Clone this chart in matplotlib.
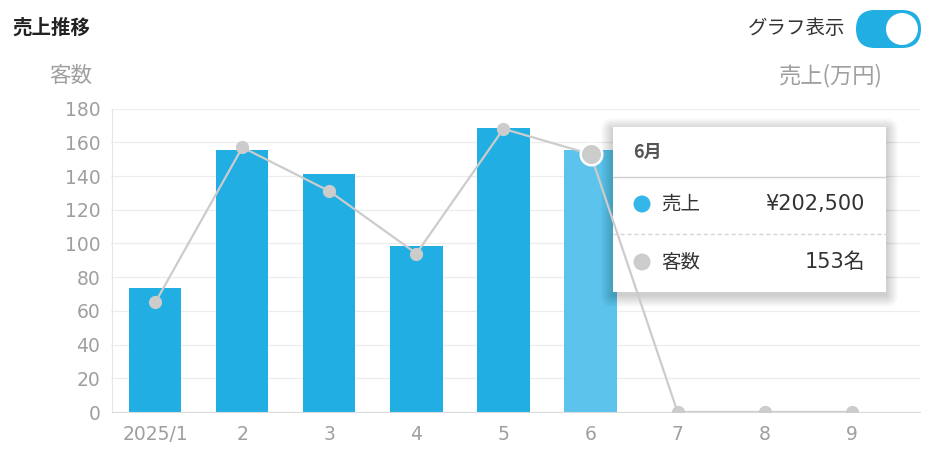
import numpy as np
import matplotlib
matplotlib.use('Agg')
import matplotlib.pyplot as plt
from matplotlib.patches import FancyBboxPatch, Circle, Rectangle
from matplotlib.transforms import Affine2D
from matplotlib.lines import Line2D

# ---- data ----
months = ['2025/1', '2', '3', '4', '5', '6', '7', '8', '9']
month_nums = [1, 2, 3, 4, 5, 6, 7, 8, 9]
sales = [95800, 202500, 183800, 128200, 219500, 202500, 0, 0, 0]   # 売上 (円)
customers = [65, 157, 131, 94, 168, 153, 0, 0, 0]                    # 客数 (名)
y_ticks = list(range(0, 181, 20))
highlight = 5

plt.rcParams['font.family'] = ['DejaVu Sans', 'Noto Sans CJK JP']
JP = ['Noto Sans CJK JP', 'DejaVu Sans']
NUM = ['DejaVu Sans', 'Noto Sans CJK JP']
W, H = 927, 457
fig = plt.figure(figsize=(W / 100, H / 100), dpi=100)
fig.patch.set_facecolor('white')
pix = Affine2D().scale(1, -1).translate(0, H)  # top-left pixel coordinates

BLUE = '#20aee3'
BLUE_HI = '#5bc3ec'
GRAY = '#cccccc'
TICK = '#9f9f9f'

L, R, T, B = 111.5, 920, 108.6, 412
ax = fig.add_axes([L / W, 1 - B / H, (R - L) / W, (B - T) / H])
ax2 = ax.twinx()
ax.set_zorder(ax2.get_zorder() + 1)
ax.patch.set_visible(False)

x = np.arange(len(months))
RMAX = 23.45  # 万円 scale of hidden right axis
sales_man = np.array(sales) / 1e4
colors = [BLUE_HI if i == highlight else BLUE for i in range(len(months))]
ax2.bar(x, sales_man, width=0.6, color=colors, zorder=2)
ax2.set_ylim(0, RMAX)
ax2.set_yticks(np.array(y_ticks) * RMAX / 180)
ax2.yaxis.grid(True, color='#ededed', lw=0.9)
ax2.xaxis.grid(True, color='#ededed', lw=0.9)
ax2.set_axisbelow(True)
ax2.tick_params(right=False, labelright=False, length=0)
for s in ax2.spines.values():
    s.set_visible(False)

# line
ax.plot(x, customers, color=GRAY, lw=1.6, marker='o', ms=8.5,
        mfc=GRAY, mec=GRAY, zorder=3)
ax.plot(x[highlight], customers[highlight], 'o', ms=15.5, mfc=GRAY,
        mec='white', mew=1.8, zorder=4)

ax.set_ylim(0, 180)
ax.set_yticks(y_ticks)
ax.set_xlim(-0.503, 8.785)
ax.set_xticks(x, months)
ax.tick_params(length=0, labelsize=13.5, labelcolor=TICK)
ax.tick_params(axis='y', pad=8)
ax.tick_params(axis='x', pad=9)
ax.spines['top'].set_visible(False)
ax.spines['right'].set_visible(False)
ax.spines['left'].set_color('#e6e6e6')
ax.spines['bottom'].set_color('#dcdcdc')

# ---- header texts ----
fig.text(12, 28, '売上推移', transform=pix, fontsize=14, fontweight='bold',
         color='#222222', family=JP, va='center')
fig.text(49, 76, '客数', transform=pix, fontsize=15.5, color=TICK,
         family=JP, va='center')
fig.text(883, 76, '売上(万円)', transform=pix, fontsize=16, color=TICK,
         family=JP, va='center', ha='right')
fig.text(845, 28, 'グラフ表示', transform=pix, fontsize=14, color='#333333',
         family=JP, va='center', ha='right')

# toggle switch
fig.add_artist(FancyBboxPatch((856, 10), 65, 38, boxstyle='round,pad=0,rounding_size=19',
                              transform=pix, fc=BLUE, ec='none'))
fig.add_artist(Circle((902, 29), 16, transform=pix, fc='white', ec='none'))

# ---- tooltip ----
bx, by, bw, bh = 613, 127, 273, 165
for k in range(1, 13):
    fig.add_artist(FancyBboxPatch((bx - k, by - k + 3), bw + 2 * k, bh + 2 * k,
                                  boxstyle=f'round,pad=0,rounding_size={k}',
                                  transform=pix, fc='black', ec='none', alpha=0.014))
fig.add_artist(Rectangle((bx, by), bw, bh, transform=pix, fc='white', ec='none'))
fig.add_artist(Line2D([bx, bx + bw], [177, 177], transform=pix, color='#d0d0d0', lw=1))
fig.add_artist(Line2D([bx, bx + bw], [234, 234], transform=pix, color='#d5d5d5', lw=1,
                      dashes=(3, 2)))
fig.text(633, 152, f'{month_nums[highlight]}月', transform=pix, fontsize=13,
         fontweight='bold', color='#555555', family=JP, va='center')
fig.add_artist(Circle((642, 204), 8.5, transform=pix, fc='#35b6e8', ec='none'))
fig.add_artist(Circle((642, 262), 8.5, transform=pix, fc=GRAY, ec='none'))
fig.text(661, 204, '売上', transform=pix, fontsize=14, color='#333333',
         family=JP, va='center')
fig.text(661, 262, '客数', transform=pix, fontsize=14, color='#333333',
         family=JP, va='center')
fig.text(865, 204, f'¥{sales[highlight]:,}', transform=pix, fontsize=15,
         color='#333333', family=NUM, va='center', ha='right')
fig.text(865, 262, f'{customers[highlight]}名', transform=pix, fontsize=15,
         color='#333333', family=NUM, va='center', ha='right')

fig.savefig('out.png', dpi=100, facecolor='white')
